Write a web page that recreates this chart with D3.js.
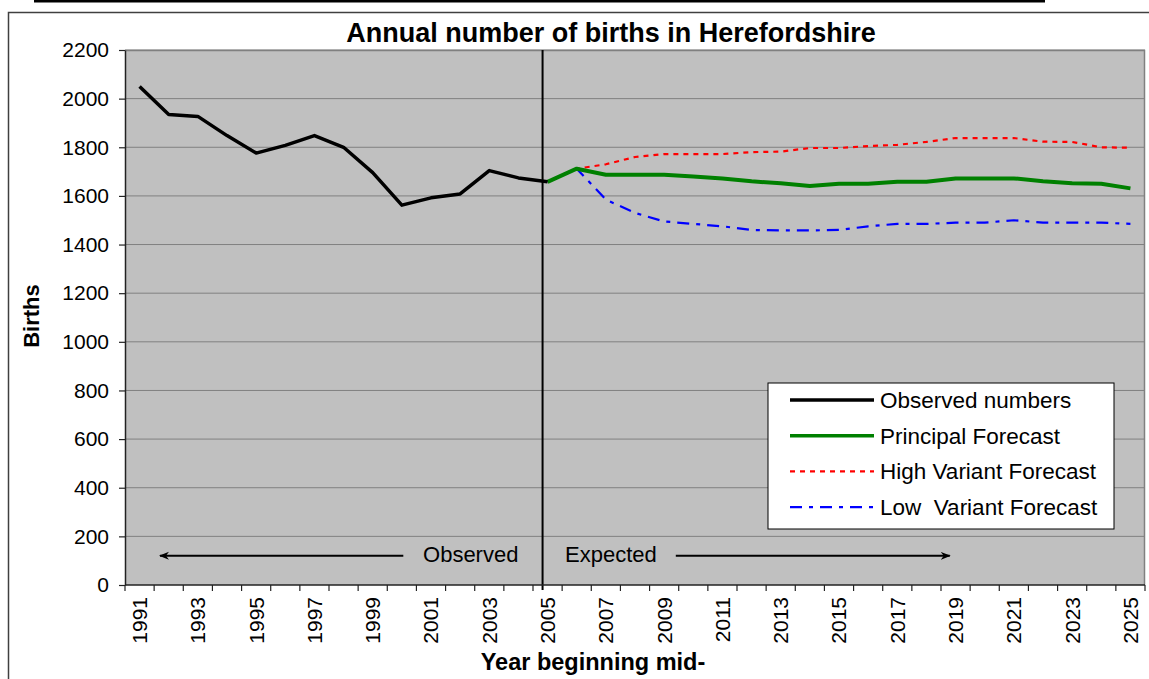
<!DOCTYPE html>
<html>
<head>
<meta charset="utf-8">
<script src="https://cdn.jsdelivr.net/npm/d3@7"></script>
<style>
body{margin:0;background:#fff}
svg{display:block;font-family:"Liberation Sans",Arial,sans-serif}
</style>
</head>
<body>
<div id="chart"></div>
<script>
(function(){

var years = [1991,1992,1993,1994,1995,1996,1997,1998,1999,2000,2001,2002,2003,2004,2005,
	2006,2007,2008,2009,2010,2011,2012,2013,2014,2015,2016,2017,2018,2019,2020,2021,2022,2023,2024,2025]
var xTickYears = [1991,1993,1995,1997,1999,2001,2003,2005,2007,2009,2011,2013,2015,2017,2019,2021,2023,2025]
var yTicks = [0,200,400,600,800,1000,1200,1400,1600,1800,2000,2200]

var obsYears = [1991,1992,1993,1994,1995,1996,1997,1998,1999,2000,2001,2002,2003,2004,2005]
var observed = [2050,1935,1927,1848,1776,1808,1848,1800,1696,1562,1592,1608,1704,1674,1658]

var fcYears = [2005,2006,2007,2008,2009,2010,2011,2012,2013,2014,2015,2016,2017,2018,2019,2020,2021,2022,2023,2024,2025]
var principal = [1658,1712,1687,1687,1687,1680,1672,1660,1652,1641,1650,1650,1658,1658,1672,1672,1672,1660,1652,1650,1631]
var high = [1658,1712,1730,1760,1772,1772,1772,1780,1782,1797,1797,1805,1810,1822,1838,1838,1838,1823,1822,1800,1798]
var low = [1658,1712,1585,1530,1495,1485,1475,1460,1458,1458,1460,1475,1485,1485,1490,1490,1500,1490,1490,1490,1485]

var W = 1149, H = 679
var margin = {top: 50, right: 4, bottom: 94, left: 125},
	width = W - margin.left - margin.right,
	height = H - margin.top - margin.bottom;

var svg = d3.select("#chart").append("svg")
	.attr("width", W)
	.attr("height", H)

// page remnant + chart frame
svg.append("line").attr("x1",34).attr("x2",1045).attr("y1",1.2).attr("y2",1.2)
	.style("stroke","#000").style("stroke-width",2.5)
svg.append("path").attr("d","M8.5,679V12.5H1149")
	.style("fill","none").style("stroke","#404040").style("stroke-width",1.5)

var plot = svg.append("g")
	.attr("transform","translate(" + margin.left + "," + margin.top + ")");

var x = d3.scaleBand().domain(years).range([0, width]).padding(0);
var y = d3.scaleLinear().domain([0,2200]).range([height, 0]);
var cx = function(d){ return x(d) + x.bandwidth()/2 }
// fractional year position for annotations
var xf = d3.scaleLinear().domain([1991,2025]).range([cx(1991), cx(2025)])

plot.append("rect").attr("width",width).attr("height",height).style("fill","#c0c0c0")

plot.selectAll(".grid").data(yTicks.slice(1)).enter().append("line")
	.attr("class","grid")
	.attr("x1",0).attr("x2",width)
	.attr("y1",function(d){return y(d)}).attr("y2",function(d){return y(d)})
	.style("stroke","#808080").style("stroke-width",1)

plot.append("path").attr("d","M0,0.5H" + (width-0.5) + "V" + height)
	.style("fill","none").style("stroke","#808080").style("stroke-width",1.5)

// divider between observed and expected
plot.append("line")
	.attr("x1", cx(2005)-5).attr("x2", cx(2005)-5)
	.attr("y1", 0).attr("y2", height+5)
	.style("stroke","#000").style("stroke-width",2)

var line = d3.line()
	.x(function(d){return cx(d[0])})
	.y(function(d){return y(d[1])})

var series = [
	{name:"High Variant Forecast", yrs:fcYears, vals:high, color:"#ff0000", w:2.2, dash:"5,5"},
	{name:"Low  Variant Forecast", yrs:fcYears, vals:low, color:"#0000ff", w:2.2, dash:"12,7,4,7"},
	{name:"Principal Forecast", yrs:fcYears, vals:principal, color:"#008000", w:4, dash:null},
	{name:"Observed numbers", yrs:obsYears, vals:observed, color:"#000000", w:3.5, dash:null}
]

series.forEach(function(s){
	plot.append("path")
		.datum(s.yrs.map(function(yr,i){return [yr, s.vals[i]]}))
		.attr("d", line)
		.style("fill","none")
		.style("stroke", s.color)
		.style("stroke-width", s.w)
		.style("stroke-dasharray", s.dash)
		.style("stroke-linejoin","round")
})

// y axis
var yAxis = plot.append("g")
	.call(d3.axisLeft(y).tickValues(yTicks).tickFormat(d3.format("d")).tickSize(6).tickPadding(10).tickSizeOuter(0))
yAxis.select(".domain").style("stroke","#222").style("stroke-width",1.5)
yAxis.selectAll(".tick line").style("stroke","#222").style("stroke-width",1.2)
yAxis.selectAll("text").style("font-size","21px").style("fill","#000")
	.style("font-family","'Liberation Sans',Arial,sans-serif")

// x axis
var xa = plot.append("g").attr("transform","translate(0," + height + ")")
xa.append("line").attr("x1",0).attr("x2",width).attr("y1",0).attr("y2",0)
	.style("stroke","#222").style("stroke-width",1.5)
xa.selectAll(".xtick").data(years.concat(["end"])).enter().append("line")
	.attr("class","xtick")
	.attr("x1",function(d){return d=="end" ? width : x(d)})
	.attr("x2",function(d){return d=="end" ? width : x(d)})
	.attr("y1",0).attr("y2",6)
	.style("stroke","#222").style("stroke-width",1.2)
xa.selectAll(".xlab").data(xTickYears).enter().append("text")
	.attr("class","xlab")
	.text(function(d){return d})
	.attr("transform",function(d){return "translate(" + cx(d) + ",12) rotate(-90)"})
	.attr("dy","0.35em")
	.style("text-anchor","end")
	.style("font-size","21px")

// observed / expected annotations
var annY = y(120)
var arrows = [[2000.05,1991.7],[2009.4,2018.8]]
svg.append("defs").append("marker")
	.attr("id","ah").attr("viewBox","0 0 10 10").attr("refX",9).attr("refY",5)
	.attr("markerWidth",5).attr("markerHeight",5).attr("orient","auto")
	.append("path").attr("d","M0,1L10,5L0,9L3,5z").style("fill","#000")
plot.selectAll(".arrow").data(arrows).enter().append("line")
	.attr("class","arrow")
	.attr("x1",function(d){return xf(d[0])}).attr("x2",function(d){return xf(d[1])})
	.attr("y1",annY).attr("y2",annY)
	.style("stroke","#000").style("stroke-width",2)
	.attr("marker-end","url(#ah)")
plot.append("text").text("Observed").attr("x",xf(2004.0)).attr("y",annY)
	.attr("dy","0.3em").style("text-anchor","end").style("font-size","22px")
plot.append("text").text("Expected").attr("x",xf(2005.6)).attr("y",annY)
	.attr("dy","0.3em").style("font-size","22px")

// titles
svg.append("text").text("Annual number of births in Herefordshire")
	.attr("x",611).attr("y",42).style("text-anchor","middle")
	.style("font-size","27px").style("font-weight","bold")
svg.append("text").text("Year beginning mid-")
	.attr("x",593).attr("y",670).style("text-anchor","middle")
	.style("font-size","23.5px").style("font-weight","bold")
svg.append("text").text("Births")
	.attr("transform","translate(31,316) rotate(-90)").attr("dy","0.35em")
	.style("text-anchor","middle")
	.style("font-size","22px").style("font-weight","bold")

// legend
var legendOrder = [series[3], series[2], series[0], series[1]]
var leg = svg.append("g").attr("transform","translate(768,383)")
leg.append("rect").attr("width",346).attr("height",146)
	.style("fill","#fff").style("stroke","#000").style("stroke-width",1)
var li = leg.selectAll(".li").data(legendOrder).enter().append("g")
	.attr("class","li")
	.attr("transform",function(d,i){return "translate(0," + (17 + i*35.7) + ")"})
li.append("line").attr("x1",22).attr("x2",106)
	.style("stroke",function(d){return d.color})
	.style("stroke-width",function(d){return Math.min(d.w,3.5)})
	.style("stroke-dasharray",function(d){return d.dash})
li.append("text").text(function(d){return d.name})
	.attr("x",112).attr("dy","0.35em")
	.style("font-size","22.5px").style("white-space","pre")

})()
</script>
</body>
</html>
